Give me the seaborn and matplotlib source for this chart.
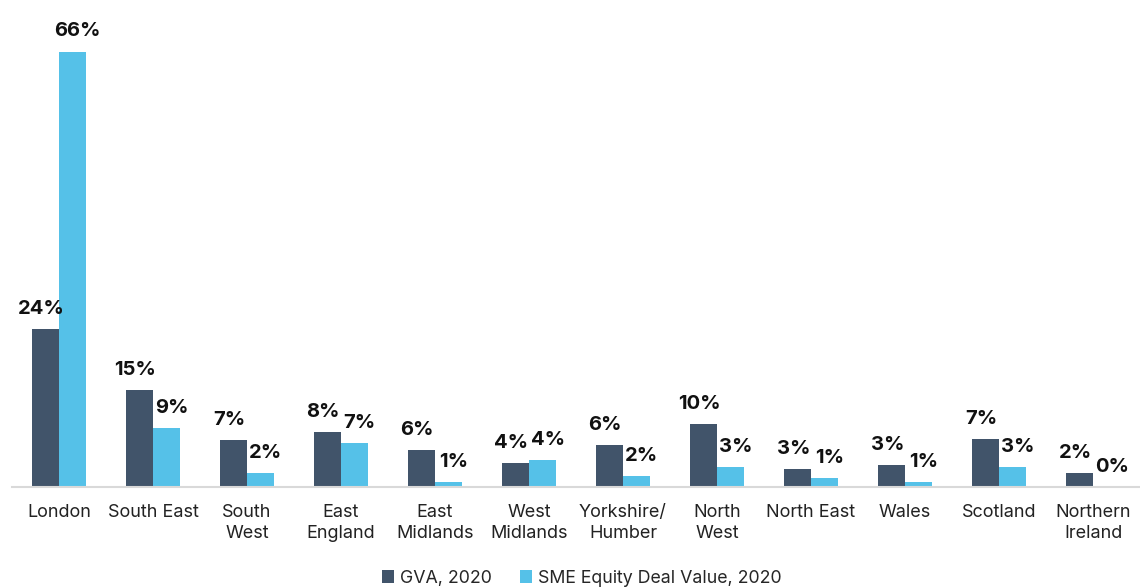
import numpy as np
import pandas as pd
import matplotlib
matplotlib.use("Agg")
import matplotlib.pyplot as plt
import seaborn as sns

# data
regions = [
    "London", "South East", "South\nWest", "East\nEngland", "East\nMidlands",
    "West\nMidlands", "Yorkshire/\nHumber", "North\nWest", "North East",
    "Wales", "Scotland", "Northern\nIreland",
]
gva_2020 = [23.9, 14.7, 7.1, 8.3, 5.6, 3.6, 6.3, 9.5, 2.7, 3.3, 7.3, 2.1]
sme_equity_2020 = [66.0, 8.9, 2.1, 6.7, 0.8, 4.1, 1.6, 3.0, 1.3, 0.8, 3.0, 0.05]
series_names = ["GVA, 2020", "SME Equity Deal Value, 2020"]
colors = ["#41546A", "#55C1E8"]

df = pd.DataFrame({
    "region": regions * 2,
    "value": gva_2020 + sme_equity_2020,
    "series": [series_names[0]] * len(regions) + [series_names[1]] * len(regions),
})

sns.set_style("white")
plt.rcParams["font.family"] = ["Inter", "DejaVu Sans"]

fig = plt.figure(figsize=(11.4, 5.87), dpi=100)
ax = fig.add_axes([12 / 1140, 100 / 587, 1128 / 1140, 467 / 587])

sns.barplot(data=df, x="region", y="value", hue="series", palette=colors,
            width=0.58, ax=ax, saturation=1, legend=True, linewidth=0)

# value labels, nudged a little apart like the original
shifts = [-4, 5]
for cont, dx in zip(ax.containers, shifts):
    labels = [f"{round(b.get_height()):.0f}%" for b in cont]
    texts = ax.bar_label(cont, labels=labels, padding=8, fontsize=14.5,
                         fontweight="bold", color="#111111")
    for t in texts:
        x, y = t.xyann
        t.xyann = (x + dx * 0.72, y)

ax.set_ylim(0, 66 * 467 / 435.4)
ax.set_xlim(-0.5, len(regions) - 0.5)
ax.set_xlabel("")
ax.set_ylabel("")
ax.set_yticks([])
ax.tick_params(axis="x", length=0, labelsize=13, pad=12, colors="#222222")
for lbl in ax.get_xticklabels():
    lbl.set_linespacing(1.35)
for s in ["top", "right", "left"]:
    ax.spines[s].set_visible(False)
ax.spines["bottom"].set_color("#D9D9D9")
ax.spines["bottom"].set_linewidth(1.5)

ax.legend(loc="lower center", bbox_to_anchor=(0.505, -0.248), ncol=2,
          frameon=False, fontsize=12.8, handlelength=0.7, handleheight=0.7,
          handletextpad=0.3, columnspacing=1.6)

plt.savefig("out.png", dpi=100)
